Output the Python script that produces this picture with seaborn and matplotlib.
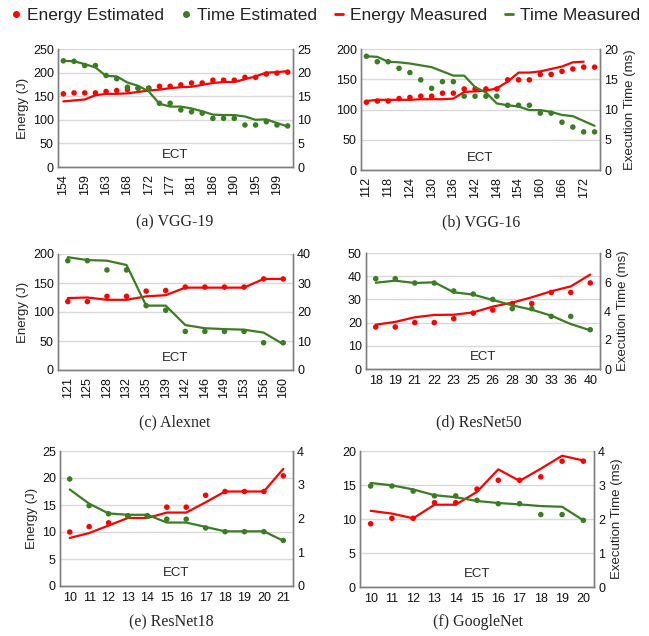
import numpy as np
import pandas as pd
import matplotlib.pyplot as plt
import seaborn as sns
from matplotlib.lines import Line2D


##################################################
# Data
##################################################

vgg19_ect = [154, 156, 159, 161, 163, 165, 168, 170, 172, 174, 177,
             179, 181, 183, 186, 188, 190, 192, 195, 197, 199, 201]
vgg19_energy_est = [155, 157, 157, 157, 160, 162, 164, 167, 167, 171, 171,
                    174, 178, 178, 184, 184, 184, 190, 190, 197, 199, 201]
vgg19_energy_meas = [139, 141, 143, 152, 155, 155, 156, 159, 162, 164, 167,
                     169, 170, 174, 178, 180, 180, 186, 192, 200, 201, 203]
vgg19_time_est = [22.5, 22.4, 21.5, 21.5, 19.4, 18.7, 16.9, 16.7, 16.7, 13.5, 13.5,
                  12.1, 11.7, 11.4, 10.3, 10.3, 10.3, 8.9, 8.9, 9.6, 8.9, 8.7]
vgg19_time_meas = [22.5, 22.4, 21.8, 21.1, 19.3, 19.2, 17.9, 17.2, 16.0, 13.4, 12.8,
                   12.8, 12.4, 11.8, 11.1, 11.0, 11.0, 10.7, 10.0, 10.1, 9.3, 8.6]

vgg16_ect = [112, 115, 118, 121, 124, 127, 130, 133, 136, 139, 142,
             145, 148, 151, 154, 157, 160, 163, 166, 169, 172, 175]
vgg16_energy_est = [112, 114, 114, 118, 120, 122, 122, 127, 127, 134, 134,
                    134, 134, 149, 149, 149, 158, 158, 163, 167, 170, 170]
vgg16_energy_meas = [114, 116, 116, 116, 116, 117, 117, 117, 118, 129, 130,
                     131, 135, 146, 161, 161, 163, 167, 171, 178, 179, np.nan]
vgg16_time_est = [18.8, 17.9, 17.9, 16.8, 16.1, 14.9, 13.5, 14.6, 14.6, 12.2, 12.2,
                  12.2, 12.2, 10.7, 10.7, 10.7, 9.4, 9.4, 7.9, 7.1, 6.3, 6.3]
vgg16_time_meas = [18.8, 18.7, 17.9, 17.8, 17.6, 17.3, 17.0, 16.3, 15.6, 15.6, 13.7,
                   12.8, 11.0, 10.7, 10.5, 9.9, 9.9, 9.6, 9.1, 8.9, 8.1, 7.3]

alexnet_ect = [121, 125, 128, 132, 135, 139, 142, 146, 149, 153, 156, 160]
alexnet_energy_est = [118, 118, 127, 127, 136, 137, 143, 143, 143, 143, 157, 157]
alexnet_energy_meas = [124, 125, 121, 121, 127, 129, 142, 142, 142, 142, 157, 157]
alexnet_time_est = [37.7, 37.7, 34.5, 34.5, 22.2, 20.6, 13.3, 13.3, 13.3, 13.3, 9.4, 9.4]
alexnet_time_meas = [38.9, 37.9, 37.7, 36.2, 22.2, 22.2, 15.5, 14.4, 14.1, 13.9, 12.9, 8.9]

resnet50_ect = [18, 19, 21, 22, 23, 25, 26, 28, 30, 33, 36, 40]
resnet50_energy_est = [18.1, 18.1, 20.0, 20.0, 21.7, 24.1, 25.4, 28.2, 28.2, 33.0, 33.0, 37.1]
resnet50_energy_meas = [19.1, 20.3, 22.3, 23.3, 23.4, 24.4, 26.9, 28.6, 30.9, 33.5, 35.6, 40.7]
resnet50_time_est = [6.23, 6.23, 5.93, 5.93, 5.38, 5.17, 4.80, 4.16, 4.16, 3.63, 3.63, 2.71]
resnet50_time_meas = [5.95, 6.09, 5.93, 5.98, 5.29, 5.13, 4.76, 4.39, 4.09, 3.68, 3.10, 2.67]

resnet18_ect = [10, 11, 12, 13, 14, 15, 16, 17, 18, 19, 20, 21]
resnet18_energy_est = [10.0, 11.0, 11.7, 13.0, 13.0, 14.6, 14.6, 16.8, 17.5, 17.5, 17.5, 20.4]
resnet18_energy_meas = [8.9, 9.8, 11.2, 12.6, 12.6, 13.6, 13.6, 15.5, 17.5, 17.5, 17.5, 21.7]
resnet18_time_est = [3.17, 2.38, 2.14, 2.07, 2.07, 1.98, 1.98, 1.72, 1.61, 1.61, 1.61, 1.35]
resnet18_time_meas = [2.86, 2.44, 2.15, 2.11, 2.11, 1.88, 1.88, 1.75, 1.62, 1.62, 1.62, 1.34]

googlenet_ect = [10, 11, 12, 13, 14, 15, 16, 17, 18, 19, 20]
googlenet_energy_est = [9.3, 10.1, 10.1, 12.4, 12.4, 14.4, 15.7, 15.7, 16.2, 18.5, 18.5]
googlenet_energy_meas = [11.2, 10.8, 10.1, 12.1, 12.1, 14.0, 17.3, 15.6, 17.4, 19.3, 18.6]
googlenet_time_est = [2.97, 2.97, 2.82, 2.68, 2.68, 2.55, 2.45, 2.45, 2.13, 2.13, 1.96]
googlenet_time_meas = [3.06, 2.99, 2.87, 2.70, 2.64, 2.53, 2.47, 2.43, 2.38, 2.36, 1.96]


##################################################
# Style
##################################################

RED = "#ff0000"
GREEN = "#3a7d22"
SPINE = "#808080"
GRID = "#d9d9d9"

sns.set_theme(style="white")
plt.rcParams["font.family"] = ["Liberation Sans", "DejaVu Sans"]

W, H = 649, 636
fig = plt.figure(figsize=(W / 100, H / 100), dpi=100)


def px_rect(x0, y0, x1, y1):
    # pixel box (top-left origin) -> figure fraction rect
    return [x0 / W, 1 - y1 / H, (x1 - x0) / W, (y1 - y0) / H]


def draw_panel(rect, ect, e_est, e_meas, t_est, t_meas,
               e_max, e_step, t_max, t_step, caption, cap_xy,
               left_label=False, right_label=False, rotate=False, every=1):
    ax = fig.add_axes(px_rect(*rect))
    ax2 = ax.twinx()

    df = pd.DataFrame({
        "pos": np.arange(len(ect)),
        "e_est": e_est, "e_meas": e_meas,
        "t_est": t_est, "t_meas": t_meas,
    })

    sns.lineplot(data=df, x="pos", y="e_meas", ax=ax, color=RED, linewidth=1.6)
    sns.scatterplot(data=df, x="pos", y="e_est", ax=ax, color=RED, s=16,
                    edgecolor="none", zorder=3)
    sns.lineplot(data=df, x="pos", y="t_meas", ax=ax2, color=GREEN, linewidth=1.6)
    sns.scatterplot(data=df, x="pos", y="t_est", ax=ax2, color=GREEN, s=16,
                    edgecolor="none", zorder=3)

    ax.set_xlim(-0.5, len(ect) - 0.5)
    ax.set_ylim(0, e_max)
    ax2.set_ylim(0, t_max)
    ax.set_yticks(np.arange(0, e_max + e_step / 2, e_step))
    ax2.set_yticks(np.arange(0, t_max + t_step / 2, t_step))

    pos = np.arange(0, len(ect), every)
    ax.set_xticks(pos)
    ax.set_xticklabels([str(ect[i]) for i in pos],
                       rotation=90 if rotate else 0)

    ax.yaxis.grid(True, color=GRID, linewidth=1)
    ax.set_axisbelow(True)

    for a in (ax, ax2):
        a.set_xlabel("")
        a.set_ylabel("")
        a.tick_params(length=0, labelsize=9, pad=3, colors="#111111")
        for side in ("left", "right", "bottom"):
            a.spines[side].set_color(SPINE)
            a.spines[side].set_linewidth(1)
        a.spines["top"].set_visible(False)
    ax.tick_params(axis="x", pad=5 if rotate else 4)

    ax.text(0.5, 0.05, "ECT", transform=ax.transAxes, ha="center",
            va="bottom", fontsize=9.5)

    if left_label:
        ax.set_ylabel("Energy (J)", fontsize=9.5, labelpad=3)
    if right_label:
        ax2.set_ylabel("Execution Time (ms)", fontsize=9.5, labelpad=4)

    fig.text(cap_xy[0] / W, 1 - cap_xy[1] / H, caption, ha="center",
             va="center", fontsize=11.5, family=["Liberation Serif", "DejaVu Serif"])


##################################################
# Panels
##################################################

draw_panel((58, 49, 293, 167), vgg19_ect, vgg19_energy_est, vgg19_energy_meas,
           vgg19_time_est, vgg19_time_meas, 250, 50, 25, 5,
           "(a) VGG-19", (175, 222), left_label=True, rotate=True, every=2)

draw_panel((361, 49, 600, 170), vgg16_ect, vgg16_energy_est, vgg16_energy_meas,
           vgg16_time_est, vgg16_time_meas, 200, 50, 20, 5,
           "(b) VGG-16", (481, 222), right_label=True, rotate=True, every=2)

draw_panel((58, 254, 293, 370), alexnet_ect, alexnet_energy_est, alexnet_energy_meas,
           alexnet_time_est, alexnet_time_meas, 200, 50, 40, 10,
           "(c) Alexnet", (175, 422), left_label=True, rotate=True)

draw_panel((366, 253, 600, 369), resnet50_ect, resnet50_energy_est, resnet50_energy_meas,
           resnet50_time_est, resnet50_time_meas, 50, 10, 8, 2,
           "(d) ResNet50", (479, 422), right_label=True)

draw_panel((60, 451, 293, 586), resnet18_ect, resnet18_energy_est, resnet18_energy_meas,
           resnet18_time_est, resnet18_time_meas, 25, 5, 4, 1,
           "(e) ResNet18", (171, 622), left_label=True)

draw_panel((360, 451, 594, 587), googlenet_ect, googlenet_energy_est, googlenet_energy_meas,
           googlenet_time_est, googlenet_time_meas, 20, 5, 4, 1,
           "(f) GoogleNet", (478, 622), right_label=True)


##################################################
# Legend
##################################################

handles = [
    Line2D([], [], color=RED, marker="o", linestyle="none", markersize=4),
    Line2D([], [], color=GREEN, marker="o", linestyle="none", markersize=4),
    Line2D([], [], color=RED, linewidth=2),
    Line2D([], [], color=GREEN, linewidth=2),
]
labels = ["Energy Estimated", "Time Estimated", "Energy Measured", "Time Measured"]
fig.legend(handles, labels, loc="center", bbox_to_anchor=(326 / W, 1 - 15 / H),
           ncol=4, frameon=False, fontsize=12.5, handlelength=0.5,
           handletextpad=0.4, columnspacing=1.0, labelcolor="#222222")

fig.savefig("out.png", dpi=100)
plt.close(fig)
